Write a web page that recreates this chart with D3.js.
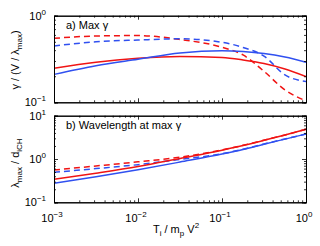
<!DOCTYPE html>
<html><head><meta charset="utf-8">
<script src="https://cdn.jsdelivr.net/npm/d3@7"></script>
<style>body{margin:0;background:#fff}svg{display:block}text{font-family:"Liberation Sans",Arial,sans-serif;fill:#000}</style>
</head><body><svg id="c" width="320" height="246"></svg>
<script>
// Data: x = T_i / m_p V^2
const xVals = [0.001, 0.00316, 0.01, 0.0316, 0.1, 0.178, 0.316, 0.562, 1.0];
// Panel a: max growth rate
const aRedDashed  = [0.548, 0.583, 0.590, 0.531, 0.432, 0.352, 0.228, 0.139, 0.104];
const aBlueDashed = [0.447, 0.500, 0.524, 0.541, 0.493, 0.430, 0.342, 0.207, 0.174];
const aRedSolid   = [0.247, 0.290, 0.322, 0.338, 0.329, 0.308, 0.280, 0.242, 0.198];
const aBlueSolid  = [0.210, 0.265, 0.314, 0.371, 0.394, 0.386, 0.366, 0.333, 0.290];
// Panel b: wavelength at max growth
const bRedDashed  = [0.557, 0.690, 0.860, 1.10, 1.62, 2.07, 2.72, 3.60, 4.85];
const bBlueDashed = [0.493, 0.600, 0.740, 0.98, 1.32, 1.68, 2.22, 2.90, 3.78];
const bRedSolid   = [0.340, 0.470, 0.670, 1.03, 1.60, 2.05, 2.70, 3.60, 4.85];
const bBlueSolid  = [0.275, 0.390, 0.565, 0.85, 1.30, 1.66, 2.20, 2.88, 3.78];
const xTicks = [0.001, 0.01, 0.1, 1];
const xTickExp = ["-3", "-2", "-1", "0"];
const aYTicks = [0.1, 1];
const aYTickExp = ["-1", "0"];
const bYTicks = [0.1, 1, 10];
const bYTickExp = ["-1", "0", "1"];

const RED = "#f01414", BLUE = "#3050f0";
const svg = d3.select("#c");
const L = 54, R = 306;
const x = d3.scaleLog().domain([0.001, 1]).range([L, R]);
const panels = [
  {top: 15.7, bot: 102.3, dom: [0.1, 1], ticks: aYTicks, exps: aYTickExp, xl: false,
   series: [[aRedDashed, RED, true], [aBlueDashed, BLUE, true], [aRedSolid, RED, false], [aBlueSolid, BLUE, false]]},
  {top: 115.7, bot: 202.3, dom: [0.1, 10], ticks: bYTicks, exps: bYTickExp, xl: true,
   series: [[bRedDashed, RED, true], [bBlueDashed, BLUE, true], [bRedSolid, RED, false], [bBlueSolid, BLUE, false]]}
];

function minorTicks(dom) {
  const out = [];
  for (let d = Math.log10(dom[0]); d < Math.log10(dom[1]) - 1e-9; d++) {
    for (let k = 2; k <= 9; k++) out.push(k * Math.pow(10, d));
  }
  return out;
}

panels.forEach((p, pi) => {
  const y = d3.scaleLog().domain(p.dom).range([p.bot, p.top]);
  const g = svg.append("g");
  const clipId = "clip" + pi;
  svg.append("clipPath").attr("id", clipId).append("rect")
    .attr("x", L).attr("y", p.top).attr("width", R - L).attr("height", p.bot - p.top);
  const line = d3.line().x((d, i) => x(xVals[i])).y(d => y(d)).curve(d3.curveMonotoneX);
  p.series.forEach(([vals, col, dashed]) => {
    g.append("path").attr("d", line(vals)).attr("fill", "none").attr("stroke", col)
      .attr("stroke-width", 1.5).attr("stroke-dasharray", dashed ? "6,4" : null)
      .attr("clip-path", `url(#${clipId})`);
  });
  // axes with inward ticks on all four sides
  const xMin = minorTicks([0.001, 1]);
  const yMin = minorTicks(p.dom);
  g.append("g").attr("transform", `translate(0,${p.bot})`)
    .call(d3.axisBottom(x).tickValues(xMin).tickSize(-2).tickFormat(""));
  g.append("g").attr("transform", `translate(0,${p.bot})`)
    .call(d3.axisBottom(x).tickValues(xTicks).tickSize(-4).tickFormat(""));
  g.append("g").attr("transform", `translate(0,${p.top})`)
    .call(d3.axisTop(x).tickValues(xMin).tickSize(-2).tickFormat(""));
  g.append("g").attr("transform", `translate(0,${p.top})`)
    .call(d3.axisTop(x).tickValues(xTicks).tickSize(-4).tickFormat(""));
  g.append("g").attr("transform", `translate(${L},0)`)
    .call(d3.axisLeft(y).tickValues(yMin).tickSize(-2).tickFormat(""));
  g.append("g").attr("transform", `translate(${L},0)`)
    .call(d3.axisLeft(y).tickValues(p.ticks).tickSize(-4).tickFormat(""));
  g.append("g").attr("transform", `translate(${R},0)`)
    .call(d3.axisRight(y).tickValues(yMin).tickSize(-2).tickFormat(""));
  g.append("g").attr("transform", `translate(${R},0)`)
    .call(d3.axisRight(y).tickValues(p.ticks).tickSize(-4).tickFormat(""));
  g.selectAll(".domain").attr("stroke", "#000").attr("stroke-width", 1);
  g.selectAll(".tick line").attr("stroke", "#000").attr("stroke-width", 0.8);

  // y tick labels
  p.ticks.forEach((t, i) => {
    const tx = g.append("text").attr("x", 46).attr("y", y(t) + 4).attr("text-anchor", "end")
      .attr("font-size", 11);
    tx.append("tspan").text("10");
    tx.append("tspan").attr("dy", -5).attr("font-size", 8).text(p.exps[i].replace("-", "\u2212"));
  });
  // x tick labels
  if (p.xl) {
    xTicks.forEach((t, i) => {
      const tx = g.append("text").attr("x", x(t) - 2).attr("y", 222).attr("text-anchor", "middle")
        .attr("font-size", 11);
      tx.append("tspan").text("10");
      tx.append("tspan").attr("dy", -5).attr("font-size", 8).text(xTickExp[i].replace("-", "\u2212"));
    });
  }
});

// panel labels
svg.append("text").attr("x", 66).attr("y", 29).attr("font-size", 11).text("a) Max \u03b3");
svg.append("text").attr("x", 66).attr("y", 129).attr("font-size", 11).text("b) Wavelength at max \u03b3");

// y axis titles
const ya = svg.append("text").attr("transform", "translate(19,60) rotate(-90)")
  .attr("text-anchor", "middle").attr("font-size", 11);
ya.append("tspan").text("\u03b3 / (V / \u03bb");
ya.append("tspan").attr("dy", 3).attr("font-size", 8).text("max");
ya.append("tspan").attr("dy", -3).text(")");
const yb = svg.append("text").attr("transform", "translate(19,163) rotate(-90)")
  .attr("text-anchor", "middle").attr("font-size", 11);
yb.append("tspan").text("\u03bb");
yb.append("tspan").attr("dy", 3).attr("font-size", 8).text("max");
yb.append("tspan").attr("dy", -3).text(" / d");
yb.append("tspan").attr("dy", 3).attr("font-size", 8).text("iCH");

// x axis title
const xt = svg.append("text").attr("x", 176).attr("y", 233).attr("text-anchor", "middle").attr("font-size", 11);
xt.append("tspan").text("T");
xt.append("tspan").attr("dy", 3).attr("font-size", 8).text("i");
xt.append("tspan").attr("dy", -3).text(" / m");
xt.append("tspan").attr("dy", 3).attr("font-size", 8).text("p");
xt.append("tspan").attr("dy", -3).text(" V");
xt.append("tspan").attr("dy", -5).attr("font-size", 8).text("2");
</script></body></html>
